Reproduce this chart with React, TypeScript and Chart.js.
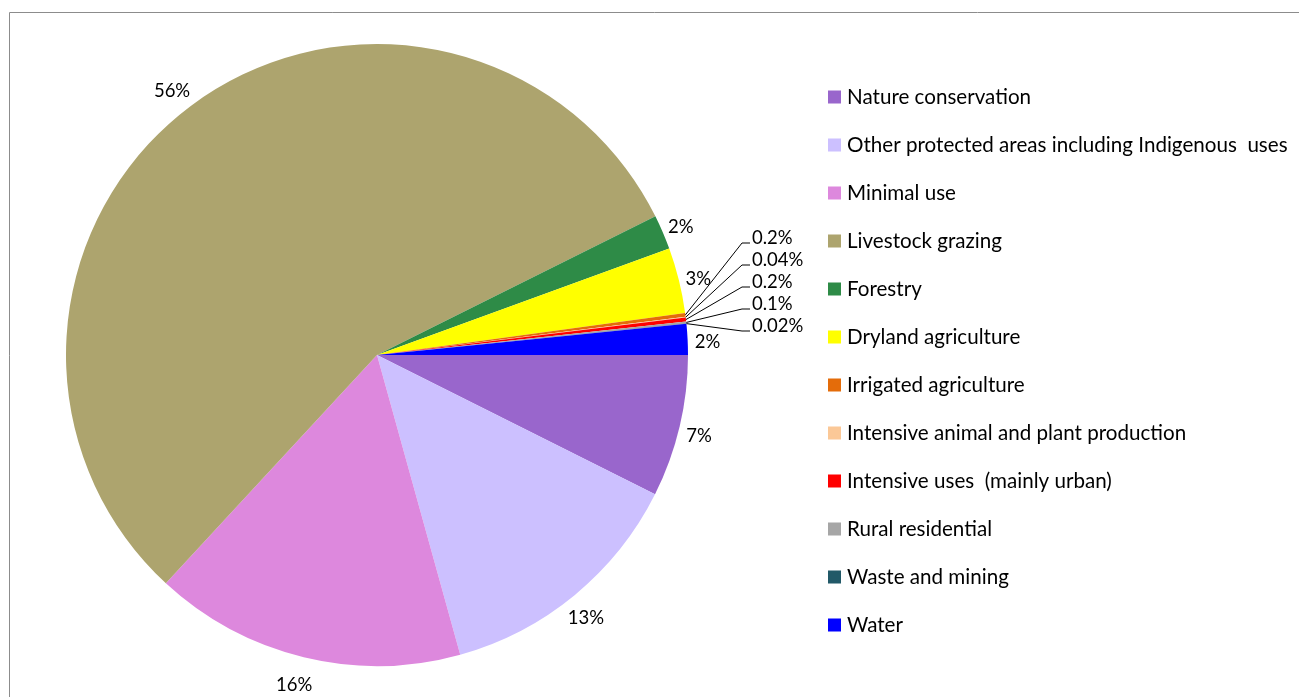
import React, { useEffect, useRef } from "react";
import { Chart, registerables } from "chart.js";

Chart.register(...registerables);

const categories = [
  "Nature conservation",
  "Other protected areas including Indigenous  uses",
  "Minimal use",
  "Livestock grazing",
  "Forestry",
  "Dryland agriculture",
  "Irrigated agriculture",
  "Intensive animal and plant production",
  "Intensive uses  (mainly urban)",
  "Rural residential",
  "Waste and mining",
  "Water",
];

const shares = [7.4, 13.3, 16.2, 55.8, 1.8, 3.4, 0.2, 0.04, 0.2, 0.1, 0.02, 1.6];

const shareLabels = ["7%", "13%", "16%", "56%", "2%", "3%", "0.2%", "0.04%", "0.2%", "0.1%", "0.02%", "2%"];

const colors = [
  "#9966CC",
  "#CCC0FF",
  "#DD88DD",
  "#ADA46E",
  "#2E8B47",
  "#FFFF00",
  "#E46C0A",
  "#FBC897",
  "#FF0000",
  "#A6A6A6",
  "#215968",
  "#0000FF",
];

const FONT = "Lato, 'Open Sans', sans-serif";

const decorPlugin = {
  id: "decor",
  beforeDraw(chart: any) {
    const ctx = chart.ctx;
    ctx.save();
    ctx.strokeStyle = "#8c8c8c";
    ctx.lineWidth = 1;
    ctx.beginPath();
    ctx.moveTo(9.5, 800);
    ctx.lineTo(9.5, 12.5);
    ctx.lineTo(1400, 12.5);
    ctx.stroke();
    ctx.restore();
  },
  afterDatasetsDraw(chart: any) {
    const ctx = chart.ctx;
    const meta = chart.getDatasetMeta(0);
    ctx.save();
    ctx.fillStyle = "#000";
    ctx.font = `18.5px ${FONT}`;
    ctx.textBaseline = "middle";
    let smallIdx = 0;
    meta.data.forEach((arc: any, i: number) => {
      const mid = (arc.startAngle + arc.endAngle) / 2;
      const r = arc.outerRadius;
      const cx = arc.x;
      const cy = arc.y;
      if (shares[i] >= 1) {
        const d = r + 24;
        ctx.textAlign = "center";
        ctx.fillText(shareLabels[i], cx + Math.cos(mid) * d - 4, cy + Math.sin(mid) * d + 4);
      } else {
        const sx = cx + Math.cos(mid) * r;
        const sy = cy + Math.sin(mid) * r;
        const lx = cx + r + 64;
        const ly = cy - 117 + smallIdx * 22;
        ctx.strokeStyle = "#000";
        ctx.lineWidth = 1;
        ctx.beginPath();
        ctx.moveTo(sx, sy);
        ctx.lineTo(lx - 10, ly + 5);
        ctx.lineTo(lx - 2, ly + 5);
        ctx.stroke();
        ctx.textAlign = "left";
        ctx.fillText(shareLabels[i], lx, ly);
        smallIdx++;
      }
    });
    // legend
    ctx.font = `20.6px ${FONT}`;
    ctx.textAlign = "left";
    categories.forEach((name, i) => {
      const y = 97 + i * 48;
      ctx.fillStyle = colors[i];
      ctx.fillRect(828, y - 6.5, 13, 13);
      ctx.fillStyle = "#000";
      ctx.fillText(name, 847, y);
    });
    ctx.restore();
  },
};

export default function App() {
  const ref = useRef<HTMLCanvasElement | null>(null);
  useEffect(() => {
    if (!ref.current) return;
    const chart = new Chart(ref.current, {
      type: "pie",
      data: {
        labels: categories,
        datasets: [
          {
            data: shares,
            backgroundColor: colors,
            borderWidth: 0,
          },
        ],
      },
      options: {
        responsive: false,
        animation: false,
        rotation: 90,
        layout: { padding: { left: 66, top: 44, right: 611, bottom: 31 } },
        plugins: {
          legend: { display: false },
          tooltip: { enabled: false },
        },
      },
      plugins: [decorPlugin],
    });
    return () => chart.destroy();
  }, []);
  return (
    <div style={{ position: "absolute", left: 0, top: 0, width: 1299, height: 697, background: "#fff" }}>
      <canvas ref={ref} width={1299} height={697} style={{ width: 1299, height: 697, display: "block" }} />
    </div>
  );
}
